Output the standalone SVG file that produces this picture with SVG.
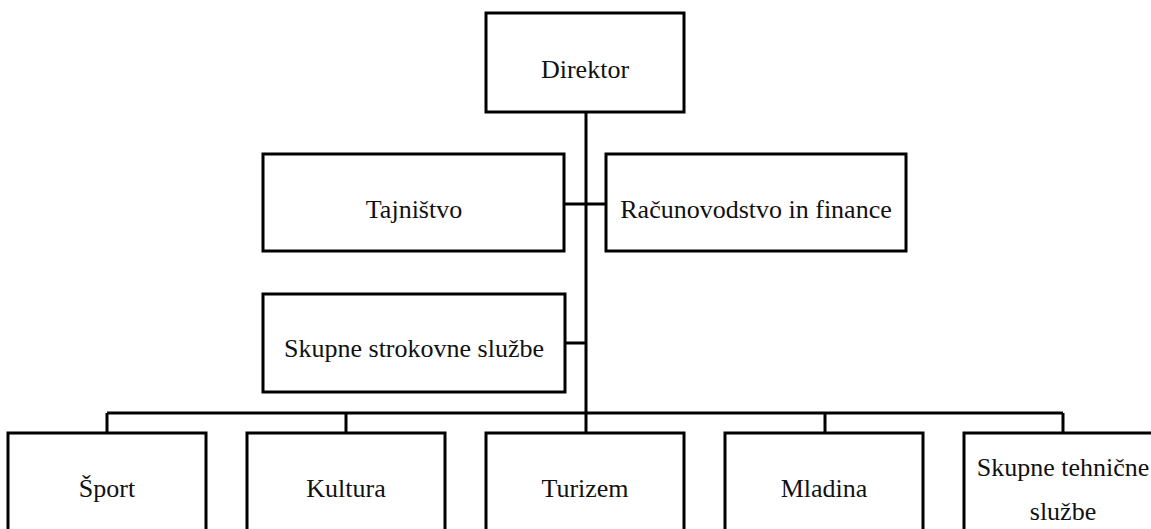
<svg xmlns="http://www.w3.org/2000/svg" width="1151" height="529" viewBox="0 0 1151 529">
<style>
.box{fill:#fff;stroke:#000;stroke-width:3}
.t{font-family:"Liberation Serif","Times New Roman",serif;font-size:26px;fill:#111;text-anchor:middle}
.c{fill:none;stroke:#000;stroke-width:3}
</style>
<rect width="1151" height="529" fill="#fff"/>
<g id="connectors">
<path class="c" d="M586 112 V413 M107 413 H1063 M107 413 V433 M346 413 V433 M586 413 V433 M825 413 V433 M1063 413 V433 M564 204 H606 M565 343 H586"/>
</g>
<g id="direktor"><rect class="box" x="486" y="13" width="198" height="99"/><text class="t" x="585" y="78">Direktor</text></g>
<g id="tajnistvo"><rect class="box" x="263" y="154" width="301" height="97"/><text class="t" x="414" y="218">Tajništvo</text></g>
<g id="racunovodstvo"><rect class="box" x="606" y="154" width="300" height="97"/><text class="t" x="756" y="218">Računovodstvo in finance</text></g>
<g id="strokovne"><rect class="box" x="263" y="294" width="302" height="98"/><text class="t" x="414" y="357">Skupne strokovne službe</text></g>
<g id="sport"><rect class="box" x="8" y="433" width="198" height="110"/><text class="t" x="107" y="497">Šport</text></g>
<g id="kultura"><rect class="box" x="247" y="433" width="198" height="110"/><text class="t" x="346" y="497">Kultura</text></g>
<g id="turizem"><rect class="box" x="486" y="433" width="198" height="110"/><text class="t" x="585" y="497">Turizem</text></g>
<g id="mladina"><rect class="box" x="725" y="433" width="198" height="110"/><text class="t" x="824" y="497">Mladina</text></g>
<g id="tehnicne"><rect class="box" x="964" y="433" width="198" height="110"/><text class="t" x="1063" y="476">Skupne tehnične</text><text class="t" x="1063" y="520">službe</text></g>
</svg>
